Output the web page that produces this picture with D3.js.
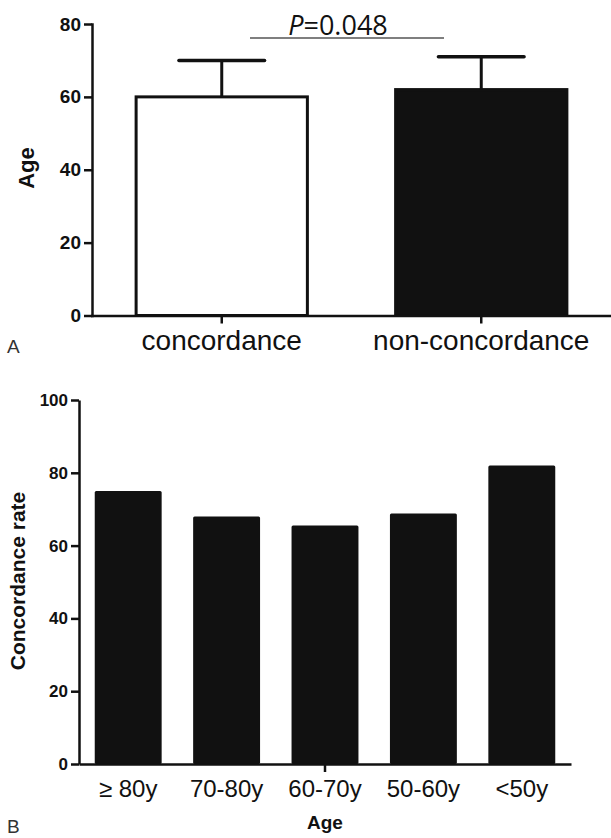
<!DOCTYPE html>
<html>
<head>
<meta charset="utf-8">
<script src="https://cdn.jsdelivr.net/npm/d3@7"></script>
<style>
	body { margin: 0; background: #fff; }
	text { font-family: "Liberation Sans", Arial, Helvetica, sans-serif; fill: #111; }
	.axis path, .axis line { stroke: #111; stroke-width: 2.5; }
</style>
</head>
<body>
<div id="chart"></div>
<script>
// panel A data
var groupsA = ["concordance", "non-concordance"];
var meanA = [60, 62];
var sdA = [10, 9];
var yTicksA = [0, 20, 40, 60, 80];
var pLabel = "P=0.048";

// panel B data
var ageGroups = ["\u2265 80y", "70-80y", "60-70y", "50-60y", "<50y"];
var rateB = [75, 68, 65.5, 68.8, 82];
var yTicksB = [0, 20, 40, 60, 80, 100];

var svg = d3.select("#chart")
	.append("svg")
	.attr("width", 611)
	.attr("height", 838);

// ---------- panel A ----------
var xA = d3.scaleBand()
	.domain(groupsA)
	.range([92, 611])
	.paddingInner(0.34)
	.paddingOuter(0.17);

var yA = d3.scaleLinear()
	.domain([0, 80])
	.range([315.5, 24]);

var gA = svg.append("g");

// bars
gA.selectAll("rect.barA")
	.data(meanA)
	.enter()
	.append("rect")
	.attr("class", "barA")
	.attr("x", function(d, i) { return xA(groupsA[i]); })
	.attr("y", function(d) { return yA(d); })
	.attr("width", xA.bandwidth())
	.attr("height", function(d) { return yA(0) - yA(d); })
	.attr("fill", function(d, i) { return i == 0 ? "#fff" : "#111"; })
	.attr("stroke", "#111")
	.attr("stroke-width", 3);

// error bars
var capW = xA.bandwidth() / 2;
meanA.forEach(function(m, i) {
	var cx = xA(groupsA[i]) + xA.bandwidth() / 2;
	gA.append("line")
		.attr("x1", cx).attr("x2", cx)
		.attr("y1", yA(m)).attr("y2", yA(m + sdA[i]))
		.attr("stroke", "#111").attr("stroke-width", 3);
	gA.append("line")
		.attr("x1", cx - capW / 2).attr("x2", cx + capW / 2)
		.attr("y1", yA(m + sdA[i])).attr("y2", yA(m + sdA[i]))
		.attr("stroke", "#111").attr("stroke-width", 3.5)
		.attr("stroke-linecap", "round");
});

// axes
gA.append("g")
	.attr("class", "axis")
	.attr("transform", "translate(92,0)")
	.call(d3.axisLeft(yA).tickValues(yTicksA).tickSize(8).tickSizeOuter(0).tickPadding(3))
	.selectAll("text")
	.style("font-size", "19px")
	.style("font-weight", "bold");

gA.append("g")
	.attr("class", "axis")
	.attr("transform", "translate(0," + yA(0) + ")")
	.call(d3.axisBottom(xA).tickSize(8).tickSizeOuter(0).tickPadding(8))
	.selectAll("text")
	.style("font-size", "28px")
	.attr("dy", "0.66em");

gA.selectAll(".axis .domain").attr("stroke-linecap", "square");

// y label
gA.append("text")
	.attr("transform", "translate(34,168) rotate(-90)")
	.attr("text-anchor", "middle")
	.style("font-size", "22px")
	.style("font-weight", "bold")
	.text("Age");

// significance bracket
gA.append("line")
	.attr("x1", 250).attr("x2", 444)
	.attr("y1", 38).attr("y2", 38)
	.attr("stroke", "#555").attr("stroke-width", 1.3);

var pText = gA.append("text")
	.attr("x", 338)
	.attr("y", 35)
	.attr("text-anchor", "middle")
	.style("font-family", "'Open Sans', sans-serif")
	.style("font-size", "27px");
pText.append("tspan").style("font-style", "italic").text(pLabel.slice(0, 1));
pText.append("tspan").text(pLabel.slice(1));

gA.append("text")
	.attr("x", 7).attr("y", 353)
	.style("font-size", "19px")
	.style("fill", "#333")
	.text("A");

// ---------- panel B ----------
var xB = d3.scaleBand()
	.domain(ageGroups)
	.range([79, 571])
	.paddingInner(0.32)
	.paddingOuter(0.16);

var yB = d3.scaleLinear()
	.domain([0, 100])
	.range([764, 400]);

var gB = svg.append("g");

gB.selectAll("rect.barB")
	.data(rateB)
	.enter()
	.append("rect")
	.attr("class", "barB")
	.attr("x", function(d, i) { return xB(ageGroups[i]); })
	.attr("y", function(d) { return yB(d); })
	.attr("width", xB.bandwidth())
	.attr("height", function(d) { return yB(0) - yB(d); })
	.attr("fill", "#111")
	.attr("rx", 1.5);

gB.append("g")
	.attr("class", "axis")
	.attr("transform", "translate(79,0)")
	.call(d3.axisLeft(yB).tickValues(yTicksB).tickSize(8).tickSizeOuter(0).tickPadding(3))
	.selectAll("text")
	.style("font-size", "17px")
	.style("font-weight", "bold");

// x axis: only the middle category carries a tick mark
var xAxisB = gB.append("g")
	.attr("class", "axis")
	.attr("transform", "translate(0," + yB(0) + ")")
	.call(d3.axisBottom(xB).tickSize(8).tickSizeOuter(0).tickPadding(8));
xAxisB.selectAll(".tick line")
	.attr("opacity", function(d) { return d == ageGroups[2] ? 1 : 0; });
xAxisB.selectAll("text")
	.style("font-size", "24px")
	.attr("dy", "0.7em");

gB.append("text")
	.attr("transform", "translate(25,581) rotate(-90)")
	.attr("text-anchor", "middle")
	.style("font-size", "21px")
	.style("font-weight", "bold")
	.text("Concordance rate");

gB.append("text")
	.attr("x", 325).attr("y", 829)
	.attr("text-anchor", "middle")
	.style("font-size", "19px")
	.style("font-weight", "bold")
	.text("Age");

gB.append("text")
	.attr("x", 7).attr("y", 833)
	.style("font-size", "19px")
	.style("fill", "#333")
	.text("B");
</script>
</body>
</html>
